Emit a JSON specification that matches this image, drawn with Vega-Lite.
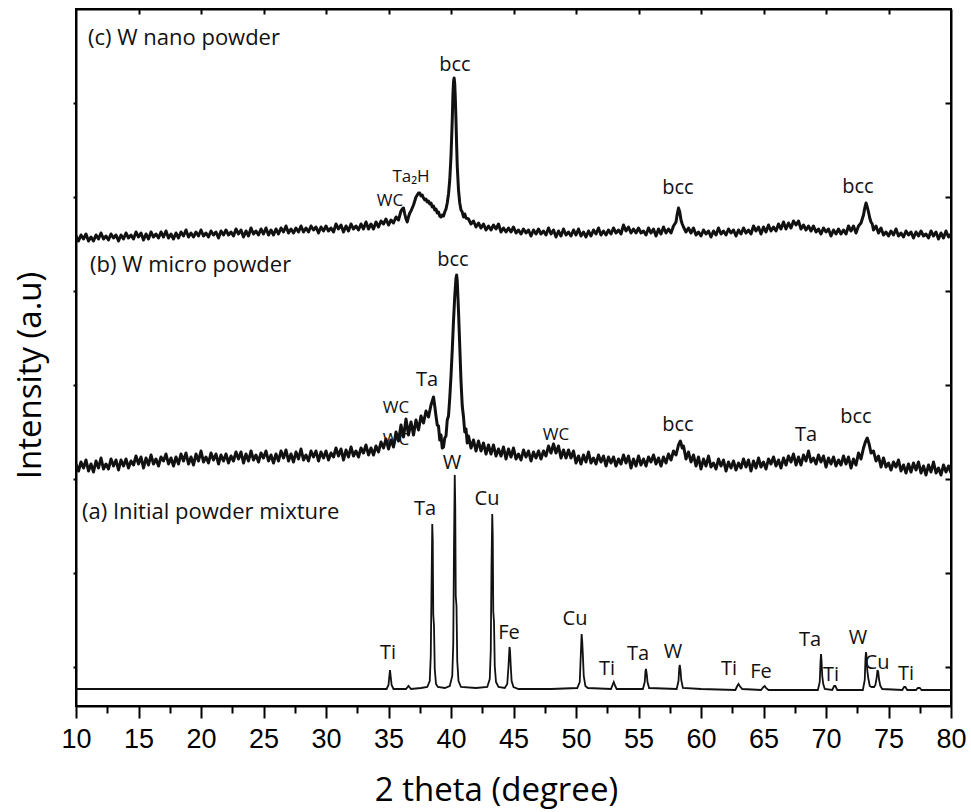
{
"$schema":"https://vega.github.io/schema/vega-lite/v6.json",
"width":875,"height":697,
"autosize":{"type":"none"},
"padding":{"left":76,"top":9,"right":20,"bottom":106},
"background":"white",
"config":{"view":{"stroke":"#000","strokeWidth":2},"axis":{"grid":false,"domainColor":"#000","tickColor":"#000","labelColor":"#000","titleColor":"#000","domainWidth":2,"tickWidth":2}},
"datasets":{
"panel":[{"t":10.96,"y":668,"label":"(c) W nano powder"},{"t":11.12,"y":441,"label":"(b) W micro powder"},{"t":10.48,"y":194,"label":"(a) Initial powder mixture"}],
"peaks":[
{"t":40.32,"y":641,"label":"bcc","s":20},{"t":36.8,"y":529,"label":"Ta₂H","s":17},{"t":35.12,"y":505,"label":"WC","s":17},{"t":58.16,"y":518,"label":"bcc","s":20},{"t":72.56,"y":519,"label":"bcc","s":20},
{"t":40.16,"y":446,"label":"bcc","s":20},{"t":38.08,"y":326,"label":"Ta","s":20},{"t":35.6,"y":298,"label":"WC","s":17},{"t":35.6,"y":266,"label":"WC","s":17},{"t":48.4,"y":271,"label":"WC","s":17},{"t":58.16,"y":281,"label":"bcc","s":20},{"t":68.4,"y":271,"label":"Ta","s":20},{"t":72.4,"y":289,"label":"bcc","s":20},
{"t":40.08,"y":243,"label":"W","s":20},{"t":37.92,"y":197,"label":"Ta","s":20},{"t":42.88,"y":207,"label":"Cu","s":20},{"t":44.64,"y":73,"label":"Fe","s":20},{"t":34.96,"y":53,"label":"Ti","s":20},{"t":49.92,"y":87,"label":"Cu","s":20},{"t":52.48,"y":37,"label":"Ti","s":20},{"t":54.96,"y":52,"label":"Ta","s":20},{"t":57.76,"y":54,"label":"W","s":20},{"t":62.24,"y":37,"label":"Ti","s":20},{"t":64.8,"y":34,"label":"Fe","s":20},{"t":68.72,"y":66,"label":"Ta","s":20},{"t":70.4,"y":31,"label":"Ti","s":20},{"t":72.56,"y":68,"label":"W","s":20},{"t":74.08,"y":43,"label":"Cu","s":20},{"t":76.4,"y":32,"label":"Ti","s":20}],
"a":[{"t":10,"y":17},{"t":12,"y":17},{"t":14,"y":17},{"t":16,"y":17},{"t":18,"y":17},{"t":20,"y":17},{"t":22,"y":17},{"t":24,"y":17},{"t":26,"y":17},{"t":28,"y":17},{"t":30,"y":17},{"t":32,"y":17},{"t":34,"y":17},{"t":34.85,"y":17},{"t":35,"y":21},{"t":35.07,"y":30},{"t":35.12,"y":36},{"t":35.17,"y":30},{"t":35.25,"y":21},{"t":35.4,"y":17},{"t":36.4,"y":17},{"t":36.6,"y":20},{"t":36.8,"y":17},{"t":37.6,"y":18},{"t":38.1,"y":19},{"t":38.3,"y":25},{"t":38.38,"y":50},{"t":38.44,"y":116},{"t":38.5,"y":182},{"t":38.54,"y":165},{"t":38.58,"y":92},{"t":38.64,"y":80},{"t":38.7,"y":37},{"t":38.8,"y":22},{"t":38.95,"y":19},{"t":39.5,"y":18},{"t":39.9,"y":20},{"t":40.1,"y":30},{"t":40.18,"y":62},{"t":40.24,"y":160},{"t":40.3,"y":231},{"t":40.34,"y":200},{"t":40.38,"y":110},{"t":40.44,"y":100},{"t":40.5,"y":45},{"t":40.6,"y":25},{"t":40.8,"y":19},{"t":42,"y":18},{"t":42.9,"y":19},{"t":43.1,"y":27},{"t":43.18,"y":55},{"t":43.24,"y":140},{"t":43.3,"y":192},{"t":43.34,"y":170},{"t":43.38,"y":95},{"t":43.44,"y":84},{"t":43.5,"y":40},{"t":43.6,"y":24},{"t":43.8,"y":19},{"t":44.3,"y":18},{"t":44.5,"y":22},{"t":44.6,"y":40},{"t":44.68,"y":59},{"t":44.72,"y":56},{"t":44.78,"y":40},{"t":44.85,"y":25},{"t":45,"y":19},{"t":45.4,"y":17},{"t":48,"y":17},{"t":50.1,"y":18},{"t":50.3,"y":24},{"t":50.38,"y":50},{"t":50.45,"y":72},{"t":50.5,"y":64},{"t":50.56,"y":48},{"t":50.62,"y":30},{"t":50.75,"y":20},{"t":50.95,"y":18},{"t":52.8,"y":17},{"t":52.95,"y":22},{"t":53.02,"y":24},{"t":53.1,"y":21},{"t":53.25,"y":17},{"t":55.35,"y":17},{"t":55.5,"y":24},{"t":55.56,"y":35},{"t":55.6,"y":37},{"t":55.66,"y":32},{"t":55.72,"y":24},{"t":55.85,"y":18},{"t":58.05,"y":17},{"t":58.2,"y":25},{"t":58.26,"y":38},{"t":58.3,"y":41},{"t":58.36,"y":36},{"t":58.42,"y":26},{"t":58.55,"y":18},{"t":60,"y":17},{"t":62.75,"y":16},{"t":62.9,"y":20},{"t":63,"y":22},{"t":63.1,"y":20},{"t":63.3,"y":17},{"t":64.8,"y":16},{"t":65,"y":19},{"t":65.1,"y":20},{"t":65.2,"y":18},{"t":65.4,"y":16},{"t":69.35,"y":16},{"t":69.5,"y":24},{"t":69.56,"y":44},{"t":69.6,"y":52},{"t":69.64,"y":46},{"t":69.7,"y":30},{"t":69.78,"y":22},{"t":69.9,"y":17},{"t":70.5,"y":16},{"t":70.65,"y":20},{"t":70.75,"y":20},{"t":70.9,"y":16},{"t":72.95,"y":16},{"t":73.1,"y":26},{"t":73.16,"y":48},{"t":73.2,"y":54},{"t":73.24,"y":50},{"t":73.3,"y":36},{"t":73.38,"y":28},{"t":73.5,"y":20},{"t":73.65,"y":19},{"t":73.85,"y":19},{"t":73.95,"y":21},{"t":74.05,"y":28},{"t":74.12,"y":36},{"t":74.18,"y":34},{"t":74.25,"y":26},{"t":74.35,"y":20},{"t":74.5,"y":17},{"t":76.1,"y":16},{"t":76.25,"y":19},{"t":76.35,"y":19},{"t":76.5,"y":16},{"t":77.2,"y":16},{"t":77.35,"y":18},{"t":77.5,"y":18},{"t":77.65,"y":16},{"t":80,"y":16}],
"b":[{"t":10,"y":242},{"t":10.2,"y":235},{"t":10.4,"y":244},{"t":10.6,"y":238},{"t":10.8,"y":246},{"t":11,"y":235},{"t":11.2,"y":242},{"t":11.4,"y":234},{"t":11.6,"y":245},{"t":11.8,"y":238},{"t":12,"y":248},{"t":12.2,"y":237},{"t":12.4,"y":242},{"t":12.6,"y":237},{"t":12.8,"y":247},{"t":13,"y":240},{"t":13.2,"y":246},{"t":13.4,"y":236},{"t":13.6,"y":246},{"t":13.8,"y":240},{"t":14,"y":247},{"t":14.2,"y":238},{"t":14.4,"y":245},{"t":14.6,"y":241},{"t":14.8,"y":250},{"t":15,"y":242},{"t":15.2,"y":249},{"t":15.4,"y":238},{"t":15.6,"y":248},{"t":15.8,"y":241},{"t":16,"y":251},{"t":16.2,"y":242},{"t":16.4,"y":247},{"t":16.6,"y":240},{"t":16.8,"y":249},{"t":17,"y":245},{"t":17.2,"y":252},{"t":17.4,"y":242},{"t":17.6,"y":248},{"t":17.8,"y":240},{"t":18,"y":249},{"t":18.2,"y":242},{"t":18.4,"y":252},{"t":18.6,"y":245},{"t":18.8,"y":253},{"t":19,"y":242},{"t":19.2,"y":249},{"t":19.4,"y":241},{"t":19.6,"y":252},{"t":19.8,"y":245},{"t":20,"y":255},{"t":20.2,"y":244},{"t":20.4,"y":249},{"t":20.6,"y":243},{"t":20.8,"y":253},{"t":21,"y":246},{"t":21.2,"y":252},{"t":21.4,"y":242},{"t":21.6,"y":251},{"t":21.8,"y":245},{"t":22,"y":252},{"t":22.2,"y":243},{"t":22.4,"y":250},{"t":22.6,"y":245},{"t":22.8,"y":254},{"t":23,"y":247},{"t":23.2,"y":254},{"t":23.4,"y":243},{"t":23.6,"y":252},{"t":23.8,"y":245},{"t":24,"y":255},{"t":24.2,"y":246},{"t":24.4,"y":251},{"t":24.6,"y":244},{"t":24.8,"y":253},{"t":25,"y":248},{"t":25.2,"y":255},{"t":25.4,"y":245},{"t":25.6,"y":251},{"t":25.8,"y":243},{"t":26,"y":252},{"t":26.2,"y":245},{"t":26.4,"y":255},{"t":26.6,"y":248},{"t":26.8,"y":256},{"t":27,"y":245},{"t":27.2,"y":252},{"t":27.4,"y":244},{"t":27.6,"y":254},{"t":27.8,"y":247},{"t":28,"y":257},{"t":28.2,"y":246},{"t":28.4,"y":251},{"t":28.6,"y":245},{"t":28.8,"y":255},{"t":29,"y":249},{"t":29.2,"y":255},{"t":29.4,"y":245},{"t":29.6,"y":254},{"t":29.8,"y":248},{"t":30,"y":255},{"t":30.2,"y":246},{"t":30.4,"y":253},{"t":30.6,"y":249},{"t":30.8,"y":258},{"t":31,"y":250},{"t":31.2,"y":257},{"t":31.4,"y":246},{"t":31.6,"y":256},{"t":31.8,"y":249},{"t":32,"y":259},{"t":32.2,"y":250},{"t":32.4,"y":255},{"t":32.6,"y":249},{"t":32.8,"y":258},{"t":33,"y":253},{"t":33.2,"y":261},{"t":33.4,"y":251},{"t":33.6,"y":258},{"t":33.8,"y":251},{"t":34,"y":260},{"t":34.2,"y":254},{"t":34.4,"y":264},{"t":34.6,"y":258},{"t":34.8,"y":267},{"t":35,"y":257},{"t":35.2,"y":266},{"t":35.4,"y":259},{"t":35.6,"y":274},{"t":35.8,"y":265},{"t":36,"y":281},{"t":36.2,"y":269},{"t":36.4,"y":287},{"t":36.6,"y":271},{"t":36.8,"y":284},{"t":37,"y":271},{"t":37.2,"y":286},{"t":37.4,"y":276},{"t":37.6,"y":290},{"t":37.8,"y":283},{"t":38,"y":295},{"t":38.2,"y":289},{"t":38.4,"y":301},{"t":38.5,"y":305},{"t":38.6,"y":309},{"t":38.7,"y":300},{"t":38.8,"y":290},{"t":38.9,"y":281},{"t":39,"y":280},{"t":39.1,"y":266},{"t":39.2,"y":271},{"t":39.3,"y":258},{"t":39.4,"y":259},{"t":39.5,"y":268},{"t":39.6,"y":270},{"t":39.7,"y":286},{"t":39.8,"y":290},{"t":39.9,"y":308},{"t":40,"y":330},{"t":40.1,"y":356},{"t":40.2,"y":385},{"t":40.3,"y":410},{"t":40.4,"y":428},{"t":40.45,"y":431},{"t":40.5,"y":425},{"t":40.6,"y":395},{"t":40.7,"y":360},{"t":40.8,"y":325},{"t":40.9,"y":300},{"t":41,"y":289},{"t":41.1,"y":274},{"t":41.2,"y":277},{"t":41.3,"y":263},{"t":41.4,"y":270},{"t":41.6,"y":258},{"t":41.8,"y":266},{"t":42,"y":255},{"t":42.2,"y":265},{"t":42.4,"y":255},{"t":42.6,"y":263},{"t":42.8,"y":252},{"t":43,"y":261},{"t":43.2,"y":252},{"t":43.4,"y":261},{"t":43.6,"y":250},{"t":43.8,"y":257},{"t":44,"y":250},{"t":44.2,"y":259},{"t":44.4,"y":247},{"t":44.6,"y":257},{"t":44.8,"y":249},{"t":45,"y":258},{"t":45.2,"y":247},{"t":45.4,"y":252},{"t":45.6,"y":246},{"t":45.8,"y":256},{"t":46,"y":249},{"t":46.2,"y":255},{"t":46.4,"y":245},{"t":46.6,"y":254},{"t":46.8,"y":248},{"t":47,"y":255},{"t":47.2,"y":247},{"t":47.4,"y":255},{"t":47.6,"y":250},{"t":47.8,"y":260},{"t":48,"y":253},{"t":48.2,"y":262},{"t":48.4,"y":253},{"t":48.6,"y":260},{"t":48.8,"y":248},{"t":49,"y":256},{"t":49.2,"y":248},{"t":49.4,"y":256},{"t":49.6,"y":248},{"t":49.8,"y":255},{"t":50,"y":243},{"t":50.2,"y":250},{"t":50.4,"y":242},{"t":50.6,"y":251},{"t":50.8,"y":244},{"t":51,"y":254},{"t":51.2,"y":243},{"t":51.4,"y":248},{"t":51.6,"y":242},{"t":51.8,"y":251},{"t":52,"y":244},{"t":52.2,"y":250},{"t":52.4,"y":240},{"t":52.6,"y":249},{"t":52.8,"y":243},{"t":53,"y":249},{"t":53.2,"y":240},{"t":53.4,"y":247},{"t":53.6,"y":242},{"t":53.8,"y":251},{"t":54,"y":243},{"t":54.2,"y":250},{"t":54.4,"y":238},{"t":54.6,"y":247},{"t":54.8,"y":240},{"t":55,"y":250},{"t":55.2,"y":241},{"t":55.4,"y":247},{"t":55.6,"y":240},{"t":55.8,"y":249},{"t":56,"y":244},{"t":56.2,"y":251},{"t":56.4,"y":242},{"t":56.6,"y":248},{"t":56.8,"y":240},{"t":57,"y":249},{"t":57.2,"y":243},{"t":57.4,"y":252},{"t":57.6,"y":246},{"t":57.8,"y":255},{"t":58,"y":251},{"t":58.2,"y":261},{"t":58.35,"y":265},{"t":58.5,"y":258},{"t":58.6,"y":260},{"t":58.8,"y":247},{"t":59,"y":254},{"t":59.2,"y":244},{"t":59.4,"y":251},{"t":59.6,"y":240},{"t":59.8,"y":249},{"t":60,"y":237},{"t":60.2,"y":247},{"t":60.4,"y":240},{"t":60.6,"y":250},{"t":60.8,"y":239},{"t":61,"y":243},{"t":61.2,"y":237},{"t":61.4,"y":247},{"t":61.6,"y":240},{"t":61.8,"y":246},{"t":62,"y":235},{"t":62.2,"y":244},{"t":62.4,"y":238},{"t":62.6,"y":245},{"t":62.8,"y":236},{"t":63,"y":243},{"t":63.2,"y":238},{"t":63.4,"y":247},{"t":63.6,"y":239},{"t":63.8,"y":246},{"t":64,"y":235},{"t":64.2,"y":245},{"t":64.4,"y":238},{"t":64.6,"y":248},{"t":64.8,"y":239},{"t":65,"y":244},{"t":65.2,"y":237},{"t":65.4,"y":247},{"t":65.6,"y":242},{"t":65.8,"y":249},{"t":66,"y":240},{"t":66.2,"y":246},{"t":66.4,"y":238},{"t":66.6,"y":248},{"t":66.8,"y":241},{"t":67,"y":250},{"t":67.2,"y":244},{"t":67.4,"y":252},{"t":67.6,"y":241},{"t":67.8,"y":249},{"t":68,"y":241},{"t":68.2,"y":251},{"t":68.4,"y":245},{"t":68.6,"y":255},{"t":68.8,"y":244},{"t":69,"y":248},{"t":69.2,"y":242},{"t":69.4,"y":251},{"t":69.6,"y":244},{"t":69.8,"y":250},{"t":70,"y":239},{"t":70.2,"y":248},{"t":70.4,"y":242},{"t":70.6,"y":249},{"t":70.8,"y":240},{"t":71,"y":246},{"t":71.2,"y":241},{"t":71.4,"y":250},{"t":71.6,"y":242},{"t":71.8,"y":249},{"t":72,"y":238},{"t":72.2,"y":247},{"t":72.4,"y":241},{"t":72.6,"y":253},{"t":72.8,"y":247},{"t":73,"y":258},{"t":73.15,"y":264},{"t":73.3,"y":268},{"t":73.45,"y":262},{"t":73.6,"y":253},{"t":73.8,"y":255},{"t":74,"y":245},{"t":74.2,"y":250},{"t":74.4,"y":239},{"t":74.6,"y":248},{"t":74.8,"y":239},{"t":75,"y":243},{"t":75.2,"y":236},{"t":75.4,"y":244},{"t":75.6,"y":239},{"t":75.8,"y":246},{"t":76,"y":235},{"t":76.2,"y":241},{"t":76.4,"y":233},{"t":76.6,"y":242},{"t":76.8,"y":234},{"t":77,"y":243},{"t":77.2,"y":236},{"t":77.4,"y":244},{"t":77.6,"y":233},{"t":77.8,"y":240},{"t":78,"y":231},{"t":78.2,"y":241},{"t":78.4,"y":234},{"t":78.6,"y":244},{"t":78.8,"y":233},{"t":79,"y":238},{"t":79.2,"y":231},{"t":79.4,"y":241},{"t":79.6,"y":234},{"t":79.8,"y":240},{"t":80,"y":233}],
"c":[{"t":10,"y":470},{"t":10.2,"y":465},{"t":10.4,"y":471},{"t":10.6,"y":467},{"t":10.8,"y":472},{"t":11,"y":465},{"t":11.2,"y":469},{"t":11.4,"y":465},{"t":11.6,"y":471},{"t":11.8,"y":467},{"t":12,"y":473},{"t":12.2,"y":467},{"t":12.4,"y":470},{"t":12.6,"y":466},{"t":12.8,"y":472},{"t":13,"y":468},{"t":13.2,"y":471},{"t":13.4,"y":465},{"t":13.6,"y":471},{"t":13.8,"y":467},{"t":14,"y":473},{"t":14.2,"y":468},{"t":14.4,"y":471},{"t":14.6,"y":467},{"t":14.8,"y":474},{"t":15,"y":469},{"t":15.2,"y":473},{"t":15.4,"y":466},{"t":15.6,"y":472},{"t":15.8,"y":467},{"t":16,"y":474},{"t":16.2,"y":469},{"t":16.4,"y":472},{"t":16.6,"y":468},{"t":16.8,"y":474},{"t":17,"y":469},{"t":17.2,"y":475},{"t":17.4,"y":468},{"t":17.6,"y":472},{"t":17.8,"y":467},{"t":18,"y":473},{"t":18.2,"y":468},{"t":18.4,"y":474},{"t":18.6,"y":470},{"t":18.8,"y":476},{"t":19,"y":469},{"t":19.2,"y":473},{"t":19.4,"y":469},{"t":19.6,"y":474},{"t":19.8,"y":470},{"t":20,"y":476},{"t":20.2,"y":470},{"t":20.4,"y":473},{"t":20.6,"y":469},{"t":20.8,"y":475},{"t":21,"y":471},{"t":21.2,"y":474},{"t":21.4,"y":468},{"t":21.6,"y":475},{"t":21.8,"y":471},{"t":22,"y":476},{"t":22.2,"y":471},{"t":22.4,"y":474},{"t":22.6,"y":470},{"t":22.8,"y":477},{"t":23,"y":472},{"t":23.2,"y":476},{"t":23.4,"y":469},{"t":23.6,"y":475},{"t":23.8,"y":470},{"t":24,"y":478},{"t":24.2,"y":472},{"t":24.4,"y":475},{"t":24.6,"y":471},{"t":24.8,"y":477},{"t":25,"y":472},{"t":25.2,"y":478},{"t":25.4,"y":471},{"t":25.6,"y":476},{"t":25.8,"y":471},{"t":26,"y":477},{"t":26.2,"y":472},{"t":26.4,"y":478},{"t":26.6,"y":474},{"t":26.8,"y":480},{"t":27,"y":473},{"t":27.2,"y":477},{"t":27.4,"y":473},{"t":27.6,"y":478},{"t":27.8,"y":474},{"t":28,"y":480},{"t":28.2,"y":474},{"t":28.4,"y":478},{"t":28.6,"y":474},{"t":28.8,"y":480},{"t":29,"y":476},{"t":29.2,"y":479},{"t":29.4,"y":473},{"t":29.6,"y":479},{"t":29.8,"y":475},{"t":30,"y":480},{"t":30.2,"y":475},{"t":30.4,"y":478},{"t":30.6,"y":474},{"t":30.8,"y":482},{"t":31,"y":477},{"t":31.2,"y":481},{"t":31.4,"y":474},{"t":31.6,"y":480},{"t":31.8,"y":475},{"t":32,"y":482},{"t":32.2,"y":477},{"t":32.4,"y":480},{"t":32.6,"y":476},{"t":32.8,"y":482},{"t":33,"y":477},{"t":33.2,"y":484},{"t":33.4,"y":477},{"t":33.6,"y":482},{"t":33.8,"y":477},{"t":34,"y":484},{"t":34.2,"y":479},{"t":34.4,"y":485},{"t":34.6,"y":482},{"t":34.8,"y":487},{"t":35,"y":481},{"t":35.2,"y":486},{"t":35.4,"y":483},{"t":35.6,"y":489},{"t":35.8,"y":486},{"t":36,"y":495},{"t":36.1,"y":497},{"t":36.2,"y":498},{"t":36.3,"y":492},{"t":36.4,"y":487},{"t":36.5,"y":484},{"t":36.6,"y":489},{"t":36.7,"y":493},{"t":36.8,"y":495},{"t":36.9,"y":498},{"t":37,"y":501},{"t":37.1,"y":505},{"t":37.2,"y":509},{"t":37.3,"y":511},{"t":37.4,"y":513},{"t":37.5,"y":513},{"t":37.6,"y":510},{"t":37.7,"y":511},{"t":37.8,"y":508},{"t":37.9,"y":506},{"t":38,"y":507},{"t":38.1,"y":504},{"t":38.2,"y":505},{"t":38.3,"y":502},{"t":38.4,"y":503},{"t":38.5,"y":499},{"t":38.6,"y":500},{"t":38.7,"y":496},{"t":38.8,"y":497},{"t":38.9,"y":493},{"t":39,"y":494},{"t":39.1,"y":490},{"t":39.2,"y":489},{"t":39.3,"y":491},{"t":39.4,"y":490},{"t":39.5,"y":494},{"t":39.6,"y":497},{"t":39.7,"y":503},{"t":39.8,"y":512},{"t":39.9,"y":526},{"t":40,"y":550},{"t":40.1,"y":586},{"t":40.15,"y":610},{"t":40.2,"y":624},{"t":40.25,"y":628},{"t":40.3,"y":622},{"t":40.35,"y":606},{"t":40.4,"y":585},{"t":40.45,"y":561},{"t":40.5,"y":540},{"t":40.6,"y":516},{"t":40.7,"y":503},{"t":40.8,"y":496},{"t":40.9,"y":494},{"t":41,"y":489},{"t":41.1,"y":492},{"t":41.2,"y":488},{"t":41.4,"y":487},{"t":41.6,"y":482},{"t":41.8,"y":485},{"t":42,"y":479},{"t":42.2,"y":483},{"t":42.4,"y":478},{"t":42.6,"y":482},{"t":42.8,"y":476},{"t":43,"y":480},{"t":43.2,"y":476},{"t":43.4,"y":481},{"t":43.6,"y":477},{"t":43.8,"y":482},{"t":44,"y":474},{"t":44.2,"y":478},{"t":44.4,"y":474},{"t":44.6,"y":478},{"t":44.8,"y":474},{"t":45,"y":479},{"t":45.2,"y":473},{"t":45.4,"y":476},{"t":45.6,"y":472},{"t":45.8,"y":477},{"t":46,"y":473},{"t":46.2,"y":476},{"t":46.4,"y":470},{"t":46.6,"y":476},{"t":46.8,"y":472},{"t":47,"y":477},{"t":47.2,"y":472},{"t":47.4,"y":475},{"t":47.6,"y":471},{"t":47.8,"y":478},{"t":48,"y":472},{"t":48.2,"y":476},{"t":48.4,"y":469},{"t":48.6,"y":475},{"t":48.8,"y":470},{"t":49,"y":477},{"t":49.2,"y":471},{"t":49.4,"y":474},{"t":49.6,"y":470},{"t":49.8,"y":476},{"t":50,"y":471},{"t":50.2,"y":477},{"t":50.4,"y":470},{"t":50.6,"y":474},{"t":50.8,"y":469},{"t":51,"y":475},{"t":51.2,"y":470},{"t":51.4,"y":476},{"t":51.6,"y":472},{"t":51.8,"y":478},{"t":52,"y":471},{"t":52.2,"y":475},{"t":52.4,"y":471},{"t":52.6,"y":476},{"t":52.8,"y":472},{"t":53,"y":478},{"t":53.2,"y":473},{"t":53.4,"y":476},{"t":53.6,"y":472},{"t":53.8,"y":481},{"t":54,"y":475},{"t":54.2,"y":479},{"t":54.4,"y":473},{"t":54.6,"y":477},{"t":54.8,"y":473},{"t":55,"y":478},{"t":55.2,"y":473},{"t":55.4,"y":475},{"t":55.6,"y":471},{"t":55.8,"y":478},{"t":56,"y":473},{"t":56.2,"y":477},{"t":56.4,"y":470},{"t":56.6,"y":477},{"t":56.8,"y":472},{"t":57,"y":479},{"t":57.2,"y":473},{"t":57.4,"y":477},{"t":57.6,"y":473},{"t":57.8,"y":480},{"t":58,"y":484},{"t":58.1,"y":492},{"t":58.2,"y":498},{"t":58.3,"y":494},{"t":58.4,"y":486},{"t":58.5,"y":482},{"t":58.6,"y":479},{"t":58.8,"y":474},{"t":59,"y":478},{"t":59.2,"y":473},{"t":59.4,"y":478},{"t":59.6,"y":471},{"t":59.8,"y":474},{"t":60,"y":470},{"t":60.2,"y":476},{"t":60.4,"y":472},{"t":60.6,"y":475},{"t":60.8,"y":469},{"t":61,"y":475},{"t":61.2,"y":471},{"t":61.4,"y":478},{"t":61.6,"y":472},{"t":61.8,"y":475},{"t":62,"y":471},{"t":62.2,"y":477},{"t":62.4,"y":473},{"t":62.6,"y":476},{"t":62.8,"y":470},{"t":63,"y":476},{"t":63.2,"y":472},{"t":63.4,"y":478},{"t":63.6,"y":473},{"t":63.8,"y":476},{"t":64,"y":472},{"t":64.2,"y":480},{"t":64.4,"y":475},{"t":64.6,"y":479},{"t":64.8,"y":472},{"t":65,"y":479},{"t":65.2,"y":474},{"t":65.4,"y":481},{"t":65.6,"y":475},{"t":65.8,"y":479},{"t":66,"y":475},{"t":66.2,"y":482},{"t":66.4,"y":477},{"t":66.6,"y":484},{"t":66.8,"y":477},{"t":67,"y":483},{"t":67.2,"y":478},{"t":67.4,"y":485},{"t":67.6,"y":481},{"t":67.8,"y":485},{"t":68,"y":477},{"t":68.2,"y":481},{"t":68.4,"y":476},{"t":68.6,"y":480},{"t":68.8,"y":475},{"t":69,"y":480},{"t":69.2,"y":474},{"t":69.4,"y":477},{"t":69.6,"y":472},{"t":69.8,"y":478},{"t":70,"y":474},{"t":70.2,"y":477},{"t":70.4,"y":470},{"t":70.6,"y":476},{"t":70.8,"y":472},{"t":71,"y":477},{"t":71.2,"y":472},{"t":71.4,"y":476},{"t":71.6,"y":472},{"t":71.8,"y":480},{"t":72,"y":475},{"t":72.2,"y":480},{"t":72.4,"y":473},{"t":72.6,"y":480},{"t":72.8,"y":483},{"t":73,"y":491},{"t":73.1,"y":498},{"t":73.2,"y":503},{"t":73.3,"y":499},{"t":73.4,"y":494},{"t":73.5,"y":488},{"t":73.6,"y":484},{"t":73.7,"y":482},{"t":73.8,"y":476},{"t":74,"y":480},{"t":74.2,"y":473},{"t":74.4,"y":478},{"t":74.6,"y":471},{"t":74.8,"y":474},{"t":75,"y":470},{"t":75.2,"y":475},{"t":75.4,"y":471},{"t":75.6,"y":477},{"t":75.8,"y":470},{"t":76,"y":473},{"t":76.2,"y":469},{"t":76.4,"y":475},{"t":76.6,"y":471},{"t":76.8,"y":474},{"t":77,"y":468},{"t":77.2,"y":474},{"t":77.4,"y":470},{"t":77.6,"y":475},{"t":77.8,"y":470},{"t":78,"y":472},{"t":78.2,"y":468},{"t":78.4,"y":475},{"t":78.6,"y":470},{"t":78.8,"y":474},{"t":79,"y":467},{"t":79.2,"y":473},{"t":79.4,"y":468},{"t":79.6,"y":475},{"t":79.8,"y":469},{"t":80,"y":472}]
},
"layer":[
{"data":{"name":"panel"},"mark":{"type":"text","align":"left","baseline":"middle","font":"Open Sans","fontSize":22,"color":"#111"},
 "encoding":{"x":{"field":"t","type":"quantitative","scale":{"domain":[10,80],"nice":false,"zero":false},"axis":null},
  "y":{"field":"y","type":"quantitative","scale":{"domain":[0,697],"nice":false,"zero":false},"axis":null},
  "text":{"field":"label"}}},
{"data":{"name":"peaks"},"mark":{"type":"text","align":"center","baseline":"middle","font":"Open Sans","color":"#111"},
 "encoding":{"x":{"field":"t","type":"quantitative","scale":{"domain":[10,80],"nice":false,"zero":false},"axis":null},
  "y":{"field":"y","type":"quantitative","scale":{"domain":[0,697],"nice":false,"zero":false},"axis":null},
  "size":{"field":"s","type":"quantitative","scale":null,"legend":null},
  "text":{"field":"label"}}},
{"data":{"name":"a"},"mark":{"type":"line","color":"#111","strokeWidth":1.8,"clip":true},
 "encoding":{"x":{"field":"t","type":"quantitative","scale":{"domain":[10,80],"nice":false,"zero":false},
   "axis":{"orient":"bottom","values":[10,15,20,25,30,35,40,45,50,55,60,65,70,75,80],"format":"d","tickSize":12,"labelFont":"Liberation Sans","labelFontSize":27,"labelPadding":8,"labelFlush":false,"labelOverlap":false,"title":"2 theta (degree)","titleFont":"Open Sans","titleFontSize":33,"titleFontWeight":"normal","titleX":420,"titleY":94,"titleBaseline":"alphabetic"}},
  "y":{"field":"y","type":"quantitative","scale":{"domain":[0,697],"nice":false,"zero":false},
   "axis":{"orient":"left","values":[39,133,227,321,415,509,603],"tickSize":3,"labels":false,"title":"Intensity (a.u)","titleFont":"Open Sans","titleFontSize":33,"titleFontWeight":"normal","titleX":-36,"titleY":366,"titleBaseline":"alphabetic","titleAngle":-90}}}},
{"data":{"name":"b"},"mark":{"type":"line","color":"#111","strokeWidth":3,"strokeJoin":"round","clip":true},
 "encoding":{"x":{"field":"t","type":"quantitative","scale":{"domain":[10,80],"nice":false,"zero":false},
   "axis":{"orient":"top","values":[15,20,25,30,35,40,45,50,55,60,65,70,75],"tickSize":-5,"labels":false,"title":null}},
  "y":{"field":"y","type":"quantitative","scale":{"domain":[0,697],"nice":false,"zero":false},
   "axis":{"orient":"right","values":[39,133,227,321,415,509,603],"tickSize":-6,"labels":false,"title":null}}}},
{"data":{"name":"c"},"mark":{"type":"line","color":"#111","strokeWidth":3,"strokeJoin":"round","clip":true},
 "encoding":{"x":{"field":"t","type":"quantitative","scale":{"domain":[10,80],"nice":false,"zero":false},
   "axis":{"orient":"bottom","values":[12.5,17.5,22.5,27.5,32.5,37.5,42.5,47.5,52.5,57.5,62.5,67.5,72.5,77.5],"tickSize":7,"labels":false,"domain":false,"title":null}},
  "y":{"field":"y","type":"quantitative","scale":{"domain":[0,697],"nice":false,"zero":false},"axis":null}}}
]
}
